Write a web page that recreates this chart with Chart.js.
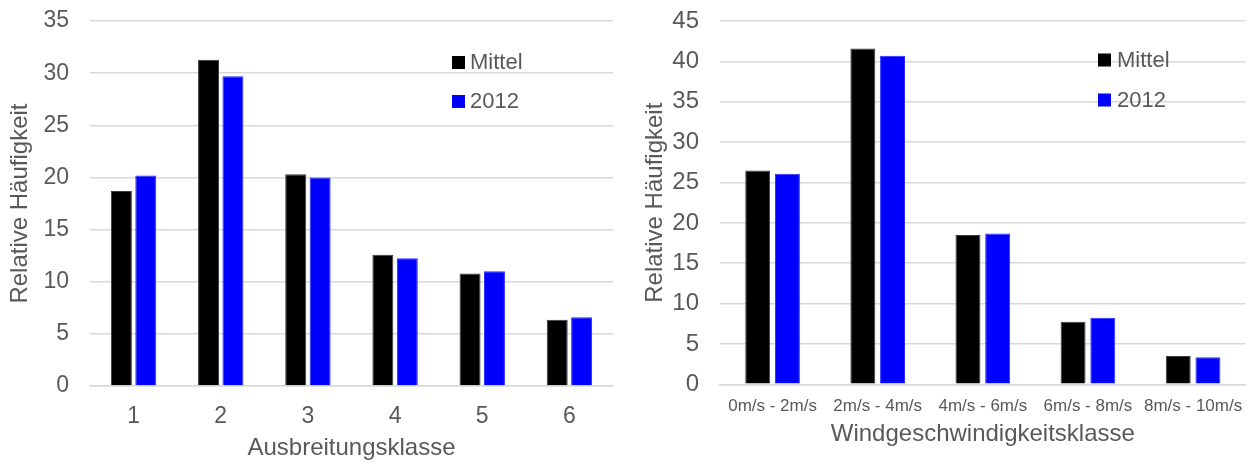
<!DOCTYPE html>
<html>
<head>
<meta charset="utf-8">
<script src="https://cdn.jsdelivr.net/npm/chart.js@4"></script>
<style>
  html, body { margin: 0; padding: 0; background: #fff; }
  body { width: 1255px; height: 465px; position: relative; overflow: hidden; }
  .box { position: absolute; top: 0; height: 465px; }
  #b1 { left: 0; width: 625px; }
  #b2 { left: 630px; width: 625px; }
</style>
</head>
<body>
<div class="box" id="b1"><canvas id="c1"></canvas></div>
<div class="box" id="b2"><canvas id="c2"></canvas></div>
<script>
// ---- Data ----
const seriesNames = ['Mittel', '2012'];
const classCategories = ['1', '2', '3', '4', '5', '6'];
const classMittel = [18.7, 31.3, 20.3, 12.6, 10.8, 6.35];
const class2012 = [20.2, 29.7, 20.0, 12.25, 11.0, 6.6];
const windCategories = ['0m/s - 2m/s', '2m/s - 4m/s', '4m/s - 6m/s', '6m/s - 8m/s', '8m/s - 10m/s'];
const windMittel = [26.5, 41.6, 18.5, 7.75, 3.5];
const wind2012 = [26.1, 40.7, 18.7, 8.25, 3.35];
const yTitle = 'Relative Häufigkeit';
const classTitle = 'Ausbreitungsklasse';
const windTitle = 'Windgeschwindigkeitsklasse';

const FONT = '"Liberation Sans", Arial, sans-serif';
const TXT = '#595959';
const GRID = '#d9d9d9';

const cornerLegend = {
  id: 'cornerLegend',
  afterDraw(chart, args, opts) {
    const ctx = chart.ctx;
    ctx.save();
    ctx.font = opts.fontSize + 'px ' + FONT;
    ctx.textBaseline = 'alphabetic';
    ctx.textAlign = 'left';
    chart.data.datasets.forEach((ds, i) => {
      const top = opts.y + i * opts.rowGap;
      ctx.fillStyle = ds.backgroundColor;
      ctx.fillRect(opts.x, top, opts.size, opts.size);
      ctx.fillStyle = TXT;
      ctx.fillText(ds.label, opts.x + opts.size + opts.textGap, top + opts.size);
    });
    ctx.restore();
  }
};

function makeChart(id, cfg) {
  return new Chart(document.getElementById(id), {
    type: 'bar',
    data: {
      labels: cfg.labels,
      datasets: [
        { label: seriesNames[0], data: cfg.a, backgroundColor: '#000000', borderColor: '#3a3a3a', borderWidth: 1,
          categoryPercentage: cfg.catPct, barPercentage: cfg.barPct },
        { label: seriesNames[1], data: cfg.b, backgroundColor: '#0000ff', borderColor: '#2a2aff', borderWidth: 1,
          categoryPercentage: cfg.catPct, barPercentage: cfg.barPct }
      ]
    },
    options: {
      responsive: true,
      maintainAspectRatio: false,
      animation: false,
      layout: { padding: cfg.padding },
      plugins: {
        legend: { display: false },
        tooltip: { enabled: false },
        cornerLegend: cfg.legend
      },
      scales: {
        x: {
          afterFit: (s) => { s.height = cfg.xHeight; },
          grid: { display: false, drawTicks: false },
          border: { display: true, color: GRID, width: 1.5 },
          ticks: { color: TXT, font: { family: FONT, size: cfg.xTickSize }, padding: cfg.xTickPad,
                   autoSkip: false, maxRotation: 0, minRotation: 0 },
          title: { display: true, text: cfg.xTitle, color: TXT, font: { family: FONT, size: cfg.xTitleSize },
                   padding: { top: cfg.xTitlePad, bottom: 0 } }
        },
        y: {
          min: 0, max: cfg.max,
          afterFit: (s) => { s.width = 90; },
          grid: { color: GRID, lineWidth: 1.5, drawTicks: false },
          border: { display: false },
          ticks: { stepSize: 5, color: TXT, font: { family: FONT, size: cfg.yTickSize, lineHeight: 0.01 }, padding: 21 },
          title: { display: true, text: yTitle, color: TXT, font: { family: FONT, size: 24 },
                   padding: { top: cfg.yTitlePad, bottom: 0 } }
        }
      }
    },
    plugins: [cornerLegend]
  });
}

makeChart('c1', {
  labels: classCategories, a: classMittel, b: class2012, max: 35,
  catPct: 0.56, barPct: 0.86,
  padding: { top: 20.7, right: 12, bottom: 2, left: 0 },
  xHeight: 77,
  xTickSize: 23, xTickPad: 17, xTitle: classTitle, xTitleSize: 24, xTitlePad: 7.6,
  yTickSize: 23, yTitlePad: 6,
  legend: { x: 452, y: 56, size: 13, rowGap: 39, textGap: 5, fontSize: 22 }
});

makeChart('c2', {
  labels: windCategories, a: windMittel, b: wind2012, max: 45,
  catPct: 0.565, barPct: 0.84,
  padding: { top: 19, right: 8, bottom: 16, left: 0 },
  xHeight: 64.7,
  xTickSize: 17, xTickPad: 12, xTitle: windTitle, xTitleSize: 24, xTitlePad: 4,
  yTickSize: 24, yTitlePad: 10.5,
  legend: { x: 468, y: 53.5, size: 13, rowGap: 40, textGap: 6, fontSize: 22 }
});
</script>
</body>
</html>
